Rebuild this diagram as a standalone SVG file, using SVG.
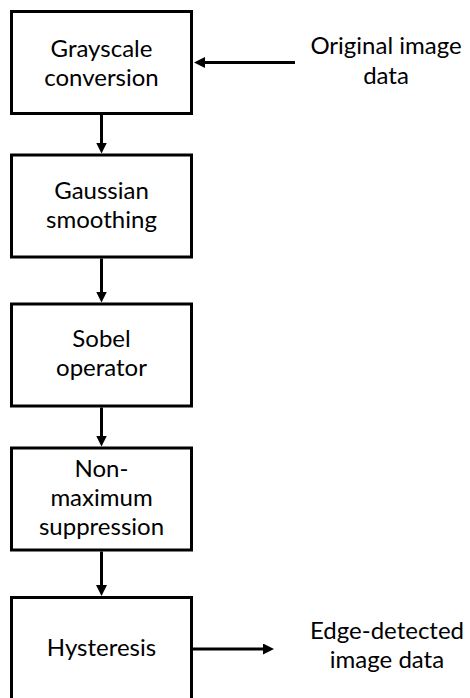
<svg xmlns="http://www.w3.org/2000/svg" width="470" height="698" viewBox="0 0 470 698">
<style>
.box{fill:#fff;stroke:#000;stroke-width:3}
.lbl{font-family:Lato,"Noto Sans",sans-serif;font-size:24px;fill:#000;text-anchor:middle}
.con{fill:none;stroke:#000;stroke-width:3}
</style>
<defs>
<marker id="ah" viewBox="0 0 11 11" refX="1" refY="5.5" markerWidth="11" markerHeight="11" markerUnits="userSpaceOnUse" orient="auto">
<path d="M0,0 L11,5.5 L0,11 z" fill="#000"/>
</marker>
</defs>
<rect width="470" height="698" fill="#fff"/>
<g id="connectors">
<path class="con" d="M101.5,115 V143.5" marker-end="url(#ah)"/>
<path class="con" d="M101.5,258.5 V292.5" marker-end="url(#ah)"/>
<path class="con" d="M101.5,407.5 V436.5" marker-end="url(#ah)"/>
<path class="con" d="M101.5,551.5 V586" marker-end="url(#ah)"/>
<path class="con" d="M295,62.5 H204" marker-end="url(#ah)"/>
<path class="con" d="M193,649 H264" marker-end="url(#ah)"/>
</g>
<g id="grayscale">
<rect class="box" x="11.5" y="11.5" width="180" height="102"/>
<text class="lbl" x="101.5" y="57">Grayscale</text>
<text class="lbl" x="101.5" y="86">conversion</text>
</g>
<g id="gaussian">
<rect class="box" x="11.5" y="155" width="180" height="102"/>
<text class="lbl" x="101.5" y="199">Gaussian</text>
<text class="lbl" x="101.5" y="228">smoothing</text>
</g>
<g id="sobel">
<rect class="box" x="11.5" y="304" width="180" height="102"/>
<text class="lbl" x="101.5" y="347">Sobel</text>
<text class="lbl" x="101.5" y="376">operator</text>
</g>
<g id="nms">
<rect class="box" x="11.5" y="448" width="180" height="102"/>
<text class="lbl" x="101.5" y="477">Non-</text>
<text class="lbl" x="101.5" y="506">maximum</text>
<text class="lbl" x="101.5" y="535">suppression</text>
</g>
<g id="hysteresis">
<rect class="box" x="11.5" y="597.5" width="180" height="102"/>
<text class="lbl" x="101.5" y="656">Hysteresis</text>
</g>
<g id="input">
<text class="lbl" x="386" y="54">Original image</text>
<text class="lbl" x="386" y="84">data</text>
</g>
<g id="output">
<text class="lbl" x="387" y="639">Edge-detected</text>
<text class="lbl" x="387" y="668">image data</text>
</g>
</svg>
